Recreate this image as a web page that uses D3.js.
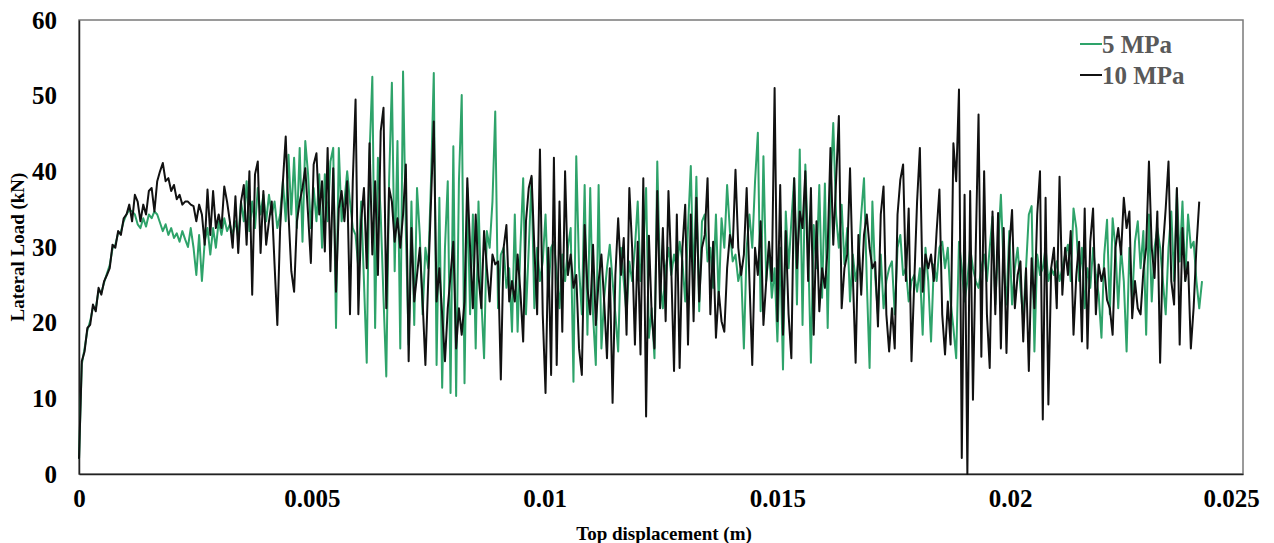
<!DOCTYPE html>
<html>
<head>
<meta charset="utf-8">
<script src="https://cdn.jsdelivr.net/npm/d3@7/dist/d3.min.js"></script>
<style>
  html, body { margin: 0; padding: 0; background: #fff; }
  svg { display: block; }
  text { font-family: "Liberation Serif", "Times New Roman", serif; font-weight: bold; }
</style>
</head>
<body>
<svg id="chart" width="1274" height="543"></svg>
<script>
// Lateral load (kN) recorded at a constant top-displacement increment (m)
const dispStep = 0.00006;

const load5MPa = [
  2.0, 14.5, 16.6, 19.0, 20.2, 22.0, 21.9, 24.2, 24.0, 25.3, 26.5, 27.6, 29.8, 30.3, 31.8, 32.0, 33.4, 34.3, 34.9, 34.7,
  34.3, 33.0, 32.5, 33.8, 32.7, 34.3, 33.8, 34.7, 34.3, 33.2, 32.1, 33.0, 31.6, 32.5, 31.2, 31.8, 30.7, 32.1, 31.0, 30.0,
  32.5, 29.9, 26.3, 31.6, 25.5, 30.7, 32.5, 29.0, 32.5, 29.9, 33.4, 31.6, 33.8, 32.1, 33.0, 31.6, 33.4, 31.2, 36.0, 33.4,
  38.7, 32.1, 36.0, 32.5, 37.8, 34.3, 36.9, 33.4, 36.9, 34.3, 36.0, 32.5, 34.3, 38.7, 33.4, 42.2, 34.3, 41.8, 32.5, 43.1,
  30.7, 44.0, 39.6, 32.5, 37.8, 33.4, 39.6, 29.9, 39.6, 33.4, 41.3, 43.1, 19.3, 43.1, 33.4, 36.0, 40.0, 36.0, 32.5, 31.6,
  27.2, 36.0, 25.5, 14.7, 42.2, 52.5, 19.3, 41.8, 34.3, 23.3, 12.9, 38.7, 51.7, 26.8, 44.0, 16.6, 53.2, 32.1, 17.1, 36.0,
  19.7, 37.8, 31.6, 21.1, 29.9, 27.2, 38.7, 53.0, 14.4, 36.5, 11.4, 29.9, 38.7, 10.7, 43.3, 10.3, 38.7, 50.1, 12.0, 37.8,
  21.1, 34.3, 16.6, 36.0, 23.3, 15.3, 32.1, 29.9, 36.0, 47.9, 21.9, 29.0, 29.9, 24.6, 27.2, 18.8, 34.3, 18.8, 29.9, 39.1,
  21.1, 29.9, 39.1, 21.9, 29.9, 25.5, 28.1, 34.3, 23.7, 29.9, 30.7, 26.3, 21.9, 29.0, 25.5, 29.9, 32.5, 12.2, 42.0, 27.2,
  21.1, 38.2, 18.4, 37.8, 21.1, 14.4, 38.2, 16.6, 23.3, 27.2, 30.3, 25.5, 21.1, 16.2, 29.9, 25.5, 21.1, 28.1, 25.5, 29.9,
  36.0, 25.5, 29.9, 37.8, 18.0, 21.9, 15.3, 41.3, 25.5, 21.9, 27.2, 29.9, 26.3, 29.0, 27.2, 30.7, 28.1, 22.8, 32.5, 40.7,
  24.6, 39.3, 21.5, 33.4, 34.3, 28.1, 29.9, 24.6, 34.3, 22.8, 33.8, 29.9, 38.2, 32.1, 28.1, 29.0, 25.5, 27.2, 16.6, 29.9,
  34.3, 29.9, 38.7, 45.1, 21.5, 42.0, 25.5, 29.9, 23.3, 27.2, 17.5, 29.9, 13.8, 34.7, 27.2, 33.4, 39.1, 22.4, 42.9, 19.7,
  40.9, 29.9, 14.7, 32.9, 27.2, 38.2, 23.3, 38.4, 19.3, 37.8, 46.4, 34.3, 29.9, 35.6, 27.7, 32.5, 22.8, 29.0, 25.5, 28.1,
  34.3, 39.1, 25.5, 14.0, 36.0, 26.0, 21.1, 29.0, 21.9, 25.5, 27.2, 28.1, 21.1, 29.9, 31.6, 26.3, 27.2, 22.8, 25.5, 26.3,
  24.1, 27.2, 18.4, 29.9, 25.5, 17.5, 27.7, 25.5, 29.9, 30.7, 27.2, 29.9, 22.8, 19.3, 15.3, 30.7, 27.2, 22.8, 25.5, 29.9,
  27.2, 25.5, 24.6, 27.2, 29.0, 25.5, 29.9, 34.0, 22.4, 29.9, 36.9, 27.2, 22.4, 32.1, 22.4, 27.2, 29.9, 24.6, 20.6, 27.2,
  34.3, 35.4, 16.2, 29.0, 26.3, 27.2, 29.9, 25.5, 27.2, 26.3, 28.1, 25.5, 27.2, 29.0, 30.3, 25.5, 35.1, 32.5, 25.5, 29.9,
  21.9, 27.2, 24.6, 29.9, 26.3, 23.7, 18.0, 29.0, 33.6, 21.1, 33.8, 29.9, 21.9, 29.9, 25.5, 16.2, 29.9, 22.8, 30.7, 33.4,
  27.2, 32.1, 18.4, 34.3, 22.8, 29.9, 32.5, 29.9, 25.5, 21.1, 29.9, 34.7, 25.5, 37.6, 28.1, 36.0, 25.5, 34.3, 29.9, 30.7,
  25.5, 21.9, 25.5
];

const load10MPa = [
  2.0, 14.9, 16.2, 19.3, 19.7, 22.4, 21.5, 24.6, 23.7, 25.5, 26.3, 27.2, 30.3, 29.9, 32.1, 31.6, 33.8, 34.3, 35.6, 33.4,
  36.9, 36.0, 33.4, 35.6, 34.3, 37.4, 37.8, 34.7, 38.7, 40.0, 41.1, 38.7, 39.1, 37.4, 38.2, 36.3, 36.9, 35.6, 36.0, 36.0,
  35.6, 35.4, 33.4, 35.6, 34.3, 30.3, 37.6, 31.6, 37.4, 32.5, 34.3, 32.5, 38.0, 36.0, 33.4, 29.9, 36.7, 29.2, 36.0, 38.2,
  30.3, 40.0, 23.7, 39.6, 41.3, 29.2, 37.4, 30.3, 33.4, 36.0, 27.7, 19.7, 32.5, 38.7, 44.6, 34.3, 26.8, 24.1, 33.4, 36.0,
  37.8, 40.4, 34.3, 27.9, 40.9, 42.4, 34.3, 38.7, 29.4, 43.1, 26.8, 40.4, 24.1, 35.1, 37.4, 33.4, 38.7, 21.1, 38.7, 49.5,
  21.1, 33.4, 37.8, 27.2, 43.7, 29.0, 38.7, 26.3, 45.3, 48.4, 21.9, 37.8, 36.0, 30.7, 33.8, 29.9, 34.3, 40.9, 14.9, 32.5,
  22.8, 26.3, 29.9, 22.8, 14.4, 25.5, 36.0, 46.6, 22.8, 27.2, 21.1, 14.9, 21.9, 26.3, 30.7, 16.6, 21.9, 18.4, 22.8, 39.1,
  29.9, 21.9, 34.3, 26.3, 21.9, 32.1, 27.2, 22.8, 29.0, 27.7, 28.1, 12.5, 29.9, 32.9, 22.8, 25.5, 22.8, 29.0, 24.1, 17.5,
  33.4, 37.8, 39.4, 29.9, 21.1, 42.9, 21.1, 10.7, 29.9, 13.1, 41.8, 14.4, 36.0, 18.8, 40.0, 26.3, 29.0, 24.6, 26.3, 16.6,
  13.1, 32.9, 24.6, 21.1, 30.3, 19.7, 25.5, 29.0, 22.8, 15.3, 27.2, 9.4, 26.3, 33.8, 26.3, 31.2, 18.4, 37.8, 29.9, 17.1,
  30.7, 15.8, 39.1, 7.6, 31.5, 21.1, 16.6, 37.4, 21.9, 32.5, 20.2, 37.4, 27.2, 13.6, 34.3, 14.0, 29.9, 35.6, 17.1, 34.3,
  20.2, 36.5, 22.8, 29.9, 31.6, 39.1, 21.1, 30.7, 18.0, 24.1, 20.2, 18.8, 27.2, 31.6, 29.9, 40.2, 29.9, 26.3, 29.0, 37.8,
  25.5, 14.4, 29.9, 26.3, 33.4, 19.7, 25.5, 30.7, 25.5, 51.0, 20.2, 38.2, 18.4, 32.1, 21.1, 15.3, 39.1, 27.2, 34.7, 32.5,
  40.0, 25.5, 37.8, 18.4, 33.4, 21.5, 27.2, 24.6, 29.9, 43.1, 30.3, 38.7, 47.3, 21.9, 27.2, 29.0, 40.4, 26.3, 14.7, 31.6,
  23.7, 31.6, 34.3, 29.9, 27.2, 28.0, 19.5, 34.3, 38.0, 21.1, 16.2, 21.9, 16.6, 34.3, 38.9, 40.9, 25.5, 35.1, 14.9, 25.5,
  36.0, 43.1, 24.1, 29.0, 27.2, 29.0, 25.5, 32.1, 37.6, 21.1, 15.8, 22.8, 17.1, 43.7, 38.7, 50.8, 2.1, 36.9, 0.0, 37.4,
  9.8, 29.9, 47.5, 15.5, 40.0, 21.1, 14.0, 34.7, 21.1, 34.5, 16.6, 32.5, 16.0, 29.9, 34.9, 21.9, 26.3, 28.1, 17.5, 27.2,
  13.6, 28.5, 21.9, 34.3, 40.0, 7.2, 36.5, 9.2, 27.2, 29.9, 21.9, 39.3, 23.7, 29.9, 26.3, 32.1, 18.4, 26.3, 30.7, 17.5,
  35.1, 16.6, 30.7, 35.1, 21.1, 27.7, 25.5, 27.2, 23.0, 21.9, 18.4, 29.9, 32.5, 29.0, 36.5, 32.5, 34.7, 20.6, 25.5, 21.9,
  21.1, 26.8, 29.9, 41.3, 29.9, 25.9, 34.7, 14.7, 29.9, 35.1, 41.3, 25.5, 22.4, 37.8, 17.1, 32.5, 25.5, 28.0, 16.6, 22.0,
  30.0, 36.0
];

const xTicks = [0, 0.005, 0.01, 0.015, 0.02, 0.025];
const yTicks = [0, 10, 20, 30, 40, 50, 60];

const seriesNames = ["5 MPa", "10 MPa"];
const seriesColors = ["#2ea36a", "#111111"];

const series = [load5MPa, load10MPa].map((vals, k) => ({
  name: seriesNames[k],
  color: seriesColors[k],
  points: vals.map((v, i) => [i * dispStep, v])
}));

const svg = d3.select("#chart");
const plot = { left: 79, top: 20, right: 1243, bottom: 474 };

const x = d3.scaleLinear().domain([0, 0.025]).range([plot.left, plot.right]);
const y = d3.scaleLinear().domain([0, 60]).range([plot.bottom, plot.top]);

// plot frame
svg.append("rect")
  .attr("x", plot.left).attr("y", plot.top)
  .attr("width", plot.right - plot.left).attr("height", plot.bottom - plot.top)
  .attr("fill", "none").attr("stroke", "#7a7a7a").attr("stroke-width", 1.5);

// x axis
const xAxis = svg.append("g")
  .attr("transform", `translate(0,${plot.bottom})`)
  .call(d3.axisBottom(x).tickValues(xTicks).tickSize(0).tickPadding(15)
    .tickFormat(d => d === 0 ? "0" : String(+d.toFixed(3))));
xAxis.select(".domain").attr("stroke", "#222").attr("stroke-width", 1.5);
xAxis.selectAll("text").attr("font-size", 25).attr("fill", "#000")
  .attr("font-family", "Liberation Serif, serif").attr("font-weight", "bold");
xAxis.selectAll(".tick").filter(d => d === 0.025).select("text").attr("dx", -12);

// y axis
const yAxis = svg.append("g")
  .attr("transform", `translate(${plot.left},0)`)
  .call(d3.axisLeft(y).tickValues(yTicks).tickSize(0).tickPadding(22));
yAxis.select(".domain").attr("stroke", "#222").attr("stroke-width", 1.5);
yAxis.selectAll("text").attr("font-size", 25).attr("fill", "#000")
  .attr("font-family", "Liberation Serif, serif").attr("font-weight", "bold");

// axis titles
svg.append("text")
  .attr("x", 664).attr("y", 540)
  .attr("text-anchor", "middle").attr("font-size", 19).attr("fill", "#000")
  .text("Top displacement (m)");

svg.append("text")
  .attr("transform", "translate(24,247) rotate(-90)")
  .attr("text-anchor", "middle").attr("font-size", 19).attr("fill", "#000")
  .text("Lateral Load (kN)");

// load–displacement curves
const line = d3.line().x(d => x(d[0])).y(d => y(d[1]));
svg.append("g").selectAll("path")
  .data(series)
  .join("path")
  .attr("d", d => line(d.points))
  .attr("fill", "none")
  .attr("stroke", d => d.color)
  .attr("stroke-width", 2)
  .attr("stroke-linejoin", "round");

// legend
const legend = svg.append("g").attr("transform", "translate(1080,44)");
series.forEach((s, k) => {
  const g = legend.append("g").attr("transform", `translate(0,${k * 31})`);
  g.append("line").attr("x1", 0).attr("x2", 22).attr("y1", 0).attr("y2", 0)
    .attr("stroke", s.color).attr("stroke-width", 2);
  g.append("text").attr("x", 22).attr("y", 8.5)
    .attr("font-size", 25).attr("fill", "#595959").text(s.name);
});
</script>
</body>
</html>
